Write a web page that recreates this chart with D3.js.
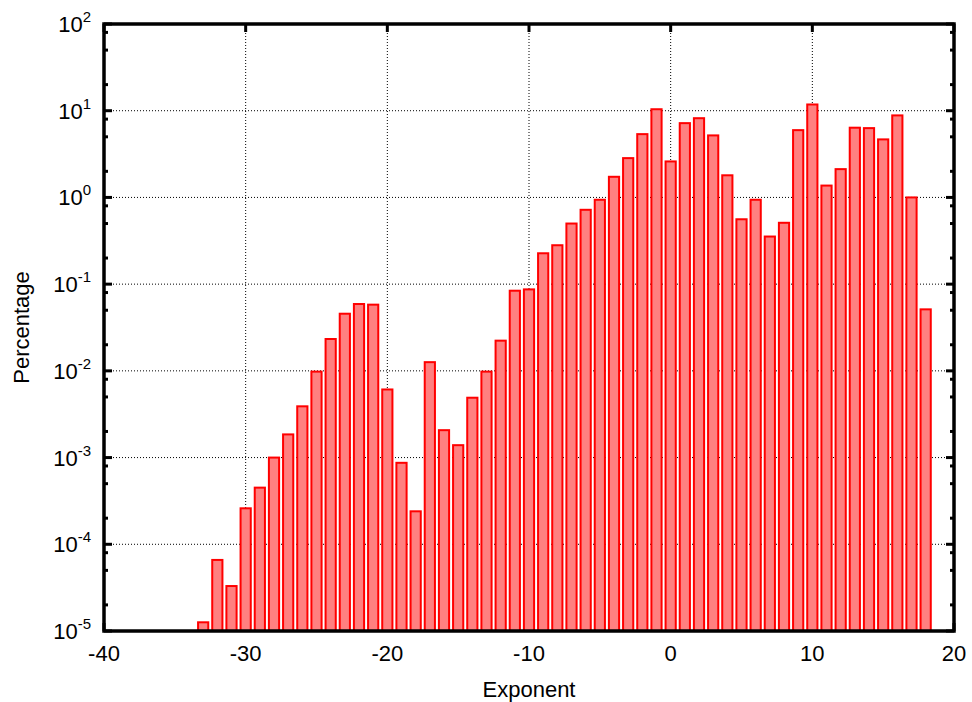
<!DOCTYPE html>
<html lang="en">
<head>
<meta charset="UTF-8">
<title>Exponent histogram</title>
<style>
  html, body { margin: 0; padding: 0; background: #fff; }
  svg text { font-family: "Liberation Sans", Arial, Helvetica, sans-serif; fill: #000; }
</style>
</head>
<body>
<svg id="chart" width="972" height="702"></svg>
<script src="https://cdn.jsdelivr.net/npm/d3@7"></script>
<script>
// exponent bins and percentage per bin
const exponents = [-33, -32, -31, -30, -29, -28, -27, -26, -25, -24, -23, -22, -21, -20,
  -19, -18, -17, -16, -15, -14, -13, -12, -11, -10, -9, -8, -7, -6, -5, -4, -3, -2, -1,
  0, 1, 2, 3, 4, 5, 6, 7, 8, 9, 10, 11, 12, 13, 14, 15, 16, 17, 18];
const percentages = [1.26e-5, 6.6e-5, 3.3e-5, 2.6e-4, 4.5e-4, 1.0e-3, 1.85e-3, 3.9e-3, 9.8e-3,
  0.0233, 0.0456, 0.059, 0.058, 6.1e-3, 8.7e-4, 2.4e-4, 0.0126, 2.07e-3, 1.39e-3, 4.9e-3,
  9.8e-3, 0.0223, 0.084, 0.087, 0.227, 0.281, 0.50, 0.72, 0.94, 1.73, 2.84, 5.37, 10.4,
  2.60, 7.19, 8.2, 5.19, 1.80, 0.56, 0.94, 0.354, 0.51, 5.97, 11.8, 1.37, 2.12, 6.37, 6.3,
  4.67, 8.83, 1.0, 0.0512];
const xTicks = [-40, -30, -20, -10, 0, 10, 20];
const yPowers = [-5, -4, -3, -2, -1, 0, 1, 2];
const yMinorFactors = [2, 5, 8];

const svg = d3.select('#chart');
const plotL = 104, plotR = 954, plotT = 24, plotB = 631;

const x = d3.scaleLinear().domain([-40, 20]).range([plotL, plotR]);
const y = d3.scaleLog().domain([1e-5, 1e2]).range([plotB, plotT]);
const boxWidth = 0.72;

// grid (dotted, behind the bars)
const grid = svg.append('g').attr('stroke', '#000').attr('stroke-width', 1)
  .attr('stroke-dasharray', '1,2');
grid.append('g').selectAll('line')
  .data(xTicks.slice(1, -1))
  .join('line')
  .attr('x1', d => x(d)).attr('x2', d => x(d))
  .attr('y1', plotT).attr('y2', plotB);
grid.append('g').selectAll('line')
  .data(yPowers.slice(1, -1))
  .join('line')
  .attr('y1', d => y(Math.pow(10, d))).attr('y2', d => y(Math.pow(10, d)))
  .attr('x1', plotL).attr('x2', plotR);

// bottom tics sit under the bars
svg.append('g').attr('stroke', '#000').attr('stroke-width', 3)
  .selectAll('line')
  .data(xTicks)
  .join('line')
  .attr('x1', d => x(d)).attr('x2', d => x(d))
  .attr('y1', plotB).attr('y2', plotB - 8);

// bars
const data = exponents.map((e, i) => ({ e, v: percentages[i] }));
svg.append('g')
  .selectAll('rect')
  .data(data)
  .join('rect')
  .attr('x', d => x(d.e - boxWidth / 2))
  .attr('width', d => x(d.e + boxWidth / 2) - x(d.e - boxWidth / 2))
  .attr('y', d => y(d.v))
  .attr('height', d => plotB - y(d.v))
  .attr('fill', '#ff8080')
  .attr('stroke', '#ff0000')
  .attr('stroke-width', 2);

// frame and remaining tics
const axes = svg.append('g').attr('stroke', '#000');
axes.append('g').selectAll('line')
  .data(xTicks)
  .join('line')
  .attr('stroke-width', 3)
  .attr('x1', d => x(d)).attr('x2', d => x(d))
  .attr('y1', plotT).attr('y2', plotT + 8);

const majorY = yPowers.map(p => Math.pow(10, p));
const minorY = [];
yPowers.slice(0, -1).forEach(p => yMinorFactors.forEach(f => minorY.push(f * Math.pow(10, p))));

[plotL, plotR].forEach(edge => {
  const dir = edge === plotL ? 1 : -1;
  axes.append('g').selectAll('line')
    .data(majorY)
    .join('line')
    .attr('stroke-width', 3)
    .attr('x1', edge).attr('x2', edge + dir * 8)
    .attr('y1', d => y(d)).attr('y2', d => y(d));
  axes.append('g').selectAll('line')
    .data(minorY)
    .join('line')
    .attr('stroke-width', 3)
    .attr('x1', edge).attr('x2', edge + dir * 4)
    .attr('y1', d => y(d)).attr('y2', d => y(d));
});

svg.append('rect')
  .attr('x', plotL).attr('y', plotT)
  .attr('width', plotR - plotL).attr('height', plotB - plotT)
  .attr('fill', 'none').attr('stroke', '#000').attr('stroke-width', 3.5);

// tick labels
svg.append('g').selectAll('text')
  .data(xTicks)
  .join('text')
  .attr('x', d => x(d))
  .attr('y', plotB + 30)
  .attr('text-anchor', 'middle')
  .attr('font-size', 22)
  .text(d => d);

const yl = svg.append('g').selectAll('text')
  .data(yPowers)
  .join('text')
  .attr('x', plotL - 13)
  .attr('y', d => y(Math.pow(10, d)) + 8)
  .attr('text-anchor', 'end')
  .attr('font-size', 22);
yl.append('tspan').text('10');
yl.append('tspan').attr('font-size', 15).attr('dy', -10).text(d => d);

// axis titles
svg.append('text')
  .attr('x', (plotL + plotR) / 2)
  .attr('y', 697)
  .attr('text-anchor', 'middle')
  .attr('font-size', 22)
  .text('Exponent');

svg.append('text')
  .attr('transform', `translate(29,${(plotT + plotB) / 2}) rotate(-90)`)
  .attr('text-anchor', 'middle')
  .attr('font-size', 22)
  .text('Percentage');
</script>
</body>
</html>
